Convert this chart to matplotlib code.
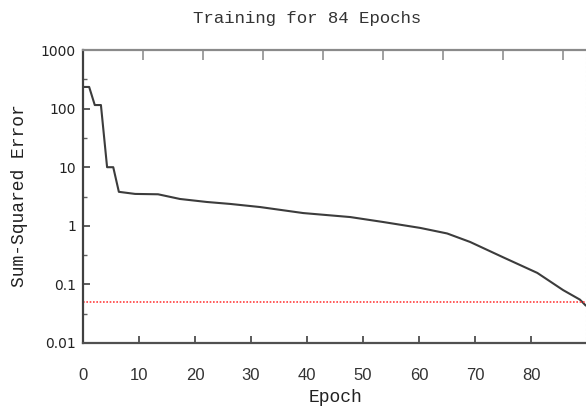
import matplotlib.pyplot as plt
from matplotlib import font_manager

# 读图得到的数据
epochs = [0, 1.1, 2.1, 3.2, 4.3, 5.4, 6.4, 9.3, 13.4, 17.3, 22.1, 26.3, 31.6,
          39.3, 47.7, 53.6, 60.2, 65.0, 69.1, 75.0, 81.1, 85.7, 88.7, 89.7]
sse = [234, 234, 115, 115, 10, 10, 3.8, 3.5, 3.45, 2.87, 2.55, 2.36, 2.09,
       1.65, 1.41, 1.16, 0.92, 0.74, 0.53, 0.29, 0.157, 0.080, 0.055, 0.044]
goal = 0.05
x_ticks = [0, 10, 20, 30, 40, 50, 60, 70, 80]
y_ticks = [0.01, 0.1, 1, 10, 100, 1000]
y_labels = ["0.01", "0.1", "1", "10", "100", "1000"]
top_ticks = [10.71, 21.43, 32.14, 42.86, 53.57, 64.29, 75.0, 85.71]

names = {f.name for f in font_manager.fontManager.ttflist}
narrow = "Liberation Sans Narrow" if "Liberation Sans Narrow" in names else "DejaVu Sans"
mono = "Liberation Mono"

fig = plt.figure(figsize=(5.86, 4.08), dpi=100)
ax = fig.add_axes([83 / 586, 65 / 408, 502.5 / 586, 293 / 408])

ax.plot(epochs, sse, color="#3c3c3c", linewidth=1.5)
ax.axhline(goal, color="#ff4040", linestyle=(0, (1, 1)), linewidth=1.2)

ax.set_yscale("log")
ax.set_xlim(0, 89.7)
ax.set_ylim(0.01, 1000)

# 刻度
ax.set_xticks(x_ticks)
ax.set_xticklabels([str(t) for t in x_ticks], family="Liberation Sans",
                   fontsize=12, color="#333333")
ax.set_yticks(y_ticks)
ax.set_yticklabels(y_labels, family=narrow, fontsize=10, color="#222222")
ax.set_yticks([10 ** (k + 0.5) for k in range(-2, 3)], minor=True)
ax.xaxis.set_minor_locator(plt.NullLocator())
ax.tick_params(axis="x", direction="in", length=5, width=1.2,
               color="#404040", pad=18)
ax.tick_params(axis="y", which="major", direction="in", length=5, width=1.2,
               color="#404040", pad=5)
ax.tick_params(axis="y", which="minor", direction="in", length=3, width=1,
               color="#606060")

# 顶部刻度
top = ax.secondary_xaxis("top")
top.set_xticks(top_ticks)
top.set_xticklabels([])
top.tick_params(direction="in", length=7, width=1.2, color="#909090")
top.spines["top"].set_visible(False)

ax.spines["left"].set_color("#404040")
ax.spines["left"].set_linewidth(1.6)
ax.spines["bottom"].set_color("#505050")
ax.spines["bottom"].set_linewidth(1.6)
ax.spines["top"].set_color("#8a8a8a")
ax.spines["top"].set_linewidth(1.6)
ax.spines["right"].set_color("#e0e0e0")
ax.spines["right"].set_linestyle((0, (1, 3)))

# 描述信息
fig.text(307 / 586, 1 - 18 / 408, "Training for 84 Epochs", family=mono,
         fontsize=12.5, ha="center", va="center", color="#333333")
fig.text(335 / 586, 1 - 398 / 408, "Epoch", family=mono, fontsize=13,
         ha="center", va="center", color="#222222")
fig.text(20 / 586, 1 - 196 / 408, "Sum-Squared Error", family=mono,
         fontsize=13, ha="center", va="center", rotation=90, color="#222222")

fig.savefig("out.png", dpi=100)
